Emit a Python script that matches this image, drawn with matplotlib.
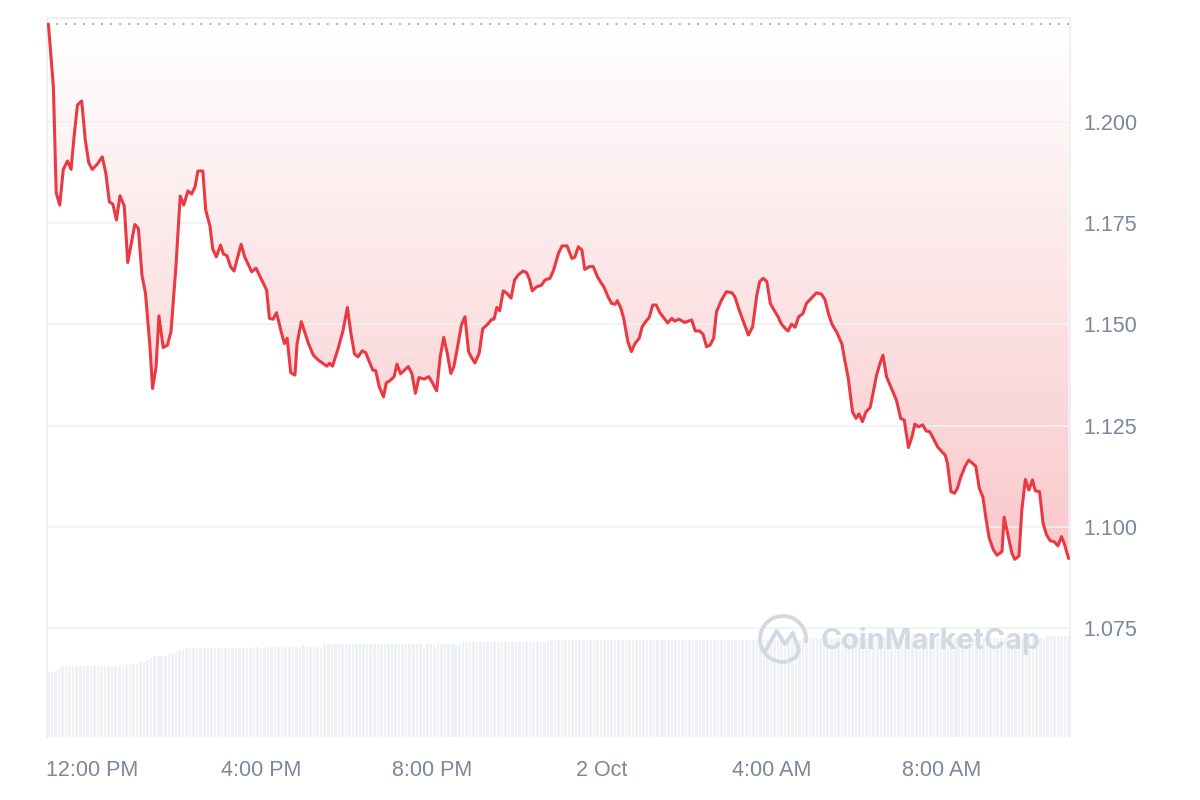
import matplotlib
matplotlib.use('Agg')
import matplotlib.pyplot as plt
import matplotlib.dates as mdates
from matplotlib.patches import Arc, Polygon
import numpy as np
import pandas as pd

# ---------------- data ----------------
start = pd.Timestamp('2024-10-01 10:59')
open_price = 1.2242

minutes = [0, 7, 11, 16, 21, 27, 32, 36, 41, 47,
           52, 57, 62, 69, 76, 81, 86, 91, 96, 101,
           107, 112, 117, 122, 127, 132, 137, 143, 147, 152,
           156, 162, 168, 173, 180, 186, 191, 197, 202, 207,
           211, 218, 222, 228, 232, 237, 243, 247, 252, 257,
           262, 272, 277, 287, 293, 301, 308, 312, 317, 322,
           328, 333, 337, 342, 348, 351, 357, 367, 374, 381,
           393, 397, 401, 409, 416, 422, 427, 432, 437, 443,
           448, 452, 458, 462, 467, 473, 477, 482, 488, 492,
           497, 508, 513, 518, 523, 530, 537, 542, 548, 553,
           558, 563, 568, 572, 577, 583, 588, 593, 597, 602,
           608, 613, 619, 626, 629, 633, 637, 642, 647, 653,
           658, 663, 670, 675, 679, 683, 689, 696, 701, 708,
           713, 720, 725, 732, 739, 743, 748, 753, 757, 764,
           769, 775, 780, 784, 790, 795, 800, 803, 808, 812,
           818, 823, 828, 834, 838, 843, 848, 853, 858, 863,
           868, 874, 880, 884, 890, 898, 908, 913, 919, 924,
           929, 934, 939, 943, 950, 957, 965, 969, 975, 981,
           988, 994, 1000, 1004, 1009, 1014, 1019, 1025, 1030, 1034,
           1040, 1044, 1049, 1054, 1059, 1065, 1070, 1077, 1084, 1091,
           1096, 1101, 1106, 1113, 1120, 1124, 1129, 1135, 1140, 1144,
           1149, 1154, 1160, 1165, 1169, 1174, 1178, 1183, 1190, 1197,
           1203, 1208, 1214, 1219, 1223, 1228, 1234, 1239, 1244, 1249,
           1255, 1261, 1266, 1269, 1274, 1279, 1283, 1288, 1294, 1299,
           1303, 1309, 1314, 1319, 1323, 1328, 1334, 1339, 1346, 1349,
           1354, 1360, 1364, 1370, 1374, 1379, 1384, 1389, 1393, 1399,
           1404, 1409, 1414, 1420, 1425, 1430, 1434, 1440]

prices = [1.2242, 1.2087, 1.1825, 1.1795, 1.1883, 1.1904, 1.1883, 1.1960, 1.2042, 1.2052,
          1.1956, 1.1899, 1.1883, 1.1896, 1.1914, 1.1874, 1.1803, 1.1797, 1.1758, 1.1818,
          1.1793, 1.1653, 1.1700, 1.1747, 1.1737, 1.1622, 1.1577, 1.1453, 1.1342, 1.1396,
          1.1521, 1.1443, 1.1449, 1.1482, 1.1643, 1.1817, 1.1795, 1.1830, 1.1822, 1.1840,
          1.1879, 1.1879, 1.1783, 1.1743, 1.1686, 1.1667, 1.1696, 1.1674, 1.1670, 1.1643,
          1.1632, 1.1698, 1.1667, 1.1630, 1.1639, 1.1610, 1.1585, 1.1515, 1.1513, 1.1529,
          1.1486, 1.1453, 1.1466, 1.1381, 1.1375, 1.1453, 1.1507, 1.1453, 1.1424, 1.1412,
          1.1397, 1.1404, 1.1397, 1.1441, 1.1486, 1.1542, 1.1478, 1.1427, 1.1420, 1.1435,
          1.1430, 1.1412, 1.1387, 1.1386, 1.1346, 1.1321, 1.1356, 1.1361, 1.1371, 1.1402,
          1.1378, 1.1396, 1.1379, 1.1330, 1.1369, 1.1365, 1.1371, 1.1356, 1.1336, 1.1420,
          1.1468, 1.1429, 1.1379, 1.1394, 1.1439, 1.1499, 1.1519, 1.1433, 1.1419, 1.1405,
          1.1429, 1.1489, 1.1499, 1.1513, 1.1513, 1.1542, 1.1534, 1.1583, 1.1577, 1.1565,
          1.1610, 1.1622, 1.1632, 1.1628, 1.1611, 1.1583, 1.1593, 1.1597, 1.1610, 1.1614,
          1.1634, 1.1676, 1.1694, 1.1694, 1.1663, 1.1666, 1.1692, 1.1684, 1.1636, 1.1643,
          1.1643, 1.1618, 1.1603, 1.1593, 1.1568, 1.1552, 1.1550, 1.1559, 1.1540, 1.1515,
          1.1457, 1.1433, 1.1453, 1.1466, 1.1494, 1.1507, 1.1517, 1.1548, 1.1548, 1.1529,
          1.1518, 1.1504, 1.1515, 1.1508, 1.1513, 1.1505, 1.1511, 1.1484, 1.1484, 1.1476,
          1.1445, 1.1449, 1.1466, 1.1531, 1.1560, 1.1581, 1.1578, 1.1568, 1.1536, 1.1507,
          1.1474, 1.1494, 1.1573, 1.1606, 1.1614, 1.1606, 1.1552, 1.1533, 1.1519, 1.1503,
          1.1490, 1.1484, 1.1501, 1.1493, 1.1519, 1.1527, 1.1552, 1.1565, 1.1578, 1.1575,
          1.1562, 1.1527, 1.1501, 1.1480, 1.1452, 1.1412, 1.1367, 1.1284, 1.1268, 1.1279,
          1.1260, 1.1284, 1.1295, 1.1340, 1.1375, 1.1405, 1.1424, 1.1371, 1.1342, 1.1313,
          1.1268, 1.1264, 1.1196, 1.1223, 1.1254, 1.1247, 1.1252, 1.1237, 1.1235, 1.1219,
          1.1198, 1.1186, 1.1177, 1.1157, 1.1087, 1.1083, 1.1095, 1.1124, 1.1150, 1.1165,
          1.1159, 1.1150, 1.1095, 1.1074, 1.1025, 1.0972, 1.0943, 1.0930, 1.0939, 1.1024,
          1.0984, 1.0935, 1.0920, 1.0928, 1.1042, 1.1117, 1.1091, 1.1116, 1.1089, 1.1087,
          1.1009, 1.0980, 1.0966, 1.0963, 1.0953, 1.0976, 1.0958, 1.0922]

# volume bars (5-minute bars), given as runs of equal height (arbitrary units)
vol_counts = [2, 1, 1, 18, 4, 2, 1, 1, 4, 2, 1, 2, 19, 2, 2, 10, 1, 5, 28, 1, 2, 1, 7, 25, 71, 69, 7]
vol_levels = [6.5, 6.6, 6.87, 7.1, 7.27, 7.5, 7.7, 7.87, 8.07, 8.27, 8.47, 8.7, 8.87, 9.03, 8.87,
              9.03, 9.23, 9.03, 9.27, 9.03, 9.27, 9.03, 9.27, 9.47, 9.68, 9.93, 10.1]

ytick_vals = [1.075, 1.100, 1.125, 1.150, 1.175, 1.200]
xtick_times = ['2024-10-01 12:00', '2024-10-01 16:00', '2024-10-01 20:00',
               '2024-10-02 00:00', '2024-10-02 04:00', '2024-10-02 08:00']
xtick_labels = ['12:00 PM', '4:00 PM', '8:00 PM', '2 Oct', '4:00 AM', '8:00 AM']

# ---------------- style ----------------
RED = '#ea3943'
TXT = '#7c879a'
GRID = '#eff1f4'
plt.rcParams['font.family'] = ['Liberation Sans', 'DejaVu Sans']

times = start + pd.to_timedelta(minutes, unit='min')
xnum = mdates.date2num(times)
vol_times = start + pd.to_timedelta(np.arange(sum(vol_counts)) * 5, unit='min')
volume = np.repeat(vol_levels, vol_counts)

x0 = mdates.date2num(start - pd.Timedelta(minutes=2))
x1 = mdates.date2num(start + pd.Timedelta(minutes=1442))
ymin, ymax = 1.0481, 1.2257

fig = plt.figure(figsize=(12, 8), dpi=100)
rect = [47 / 1200, 1 - 737 / 800, (1070 - 47) / 1200, (737 - 18) / 800]

# volume axes (behind)
axv = fig.add_axes(rect)
axv.bar(mdates.date2num(vol_times), volume, width=3.6 / 1440, color='#eef1f5',
        align='center', linewidth=0)
axv.set_xlim(x0, x1)
axv.set_ylim(0, 71.9)
axv.axis('off')

# price axes
ax = fig.add_axes(rect)
ax.patch.set_visible(False)

# gradient fill between price line and opening price
n = 256
rgb = matplotlib.colors.to_rgb(RED)
grad = np.zeros((n, 1, 4))
grad[..., 0], grad[..., 1], grad[..., 2] = rgb
frac = 1 - np.linspace(0, 1, n)  # row 0 at bottom (origin lower)
grad[:, 0, 3] = 0.37 * frac
im = ax.imshow(grad, extent=[x0, x1, ymin, open_price], origin='lower',
               aspect='auto', zorder=1, interpolation='bilinear')
verts = [(xnum[0], open_price)] + list(zip(xnum, prices)) + [(xnum[-1], open_price)]
poly = Polygon(verts, closed=True, facecolor='none', edgecolor='none',
               transform=ax.transData)
ax.add_patch(poly)
im.set_clip_path(poly)

ax.plot(xnum, prices, color=RED, lw=2.2, solid_joinstyle='round',
        solid_capstyle='round', zorder=4)
ax.axhline(open_price, color='#9ea4ae', lw=1.3, ls=(0, (1, 4)), zorder=3)

ax.set_xlim(x0, x1)
ax.set_ylim(ymin, ymax)

ax.set_yticks(ytick_vals)
ax.set_yticklabels([f'{v:.3f}' for v in ytick_vals])
ax.yaxis.tick_right()
ax.yaxis.grid(True, color=GRID, lw=1.2, zorder=0)
ax.set_xticks(mdates.date2num(pd.to_datetime(xtick_times)))
ax.set_xticklabels(xtick_labels)
ax.tick_params(axis='y', length=0, pad=9.5, labelsize=15.5, labelcolor=TXT)
ax.tick_params(axis='x', length=0, pad=16.5, labelsize=15.5, labelcolor=TXT)

for s in ['left', 'right', 'top']:
    ax.spines[s].set_color('#eceef1')
    ax.spines[s].set_linewidth(1.3)
ax.spines['bottom'].set_visible(False)

# watermark
ov = fig.add_axes([0, 0, 1, 1], zorder=5)
ov.set_xlim(0, 1200)
ov.set_ylim(800, 0)
ov.axis('off')
WM = '#d3d9e3'
ov.add_patch(Arc((783, 639), 46, 46, theta1=80, theta2=370, color=WM, lw=2.8))
ov.plot([766, 776.5, 785, 793, 799, 796, 789], [650, 631, 644, 633, 650, 657, 661],
        color=WM, lw=2.8, solid_joinstyle='round', solid_capstyle='round')
ov.text(821, 641, 'CoinMarketCap', color=WM, fontsize=20.7, fontweight='bold',
        family=['Inter', 'DejaVu Sans'], ha='left', va='center')

fig.savefig('out.png', dpi=100)
